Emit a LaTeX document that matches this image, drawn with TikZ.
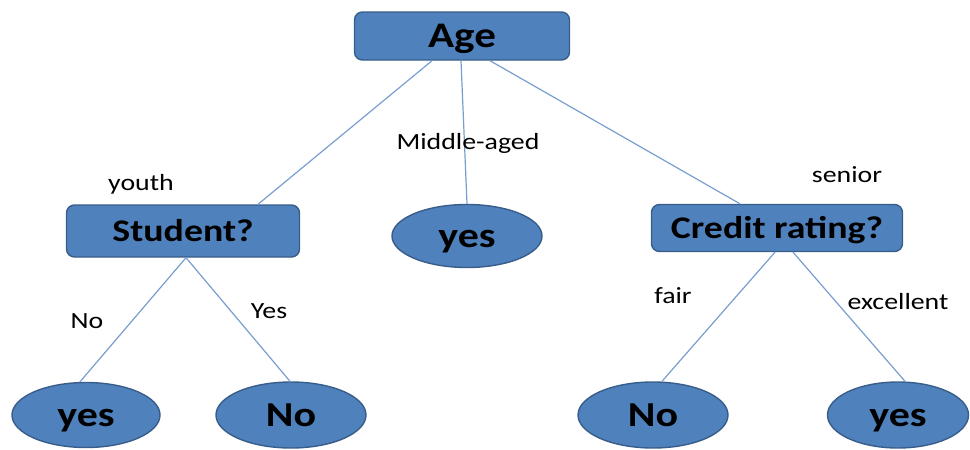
\documentclass[tikz,border=0pt]{standalone}
\usepackage{fontspec}
\setmainfont{Carlito}
\newfontfamily\calib[FakeStretch=1.2]{Carlito}
\usetikzlibrary{shapes.geometric}
\definecolor{nodefill}{HTML}{4F81BD}
\definecolor{nodeedge}{HTML}{385D8A}
\definecolor{branch}{RGB}{120,158,208}
\begin{document}
\begin{tikzpicture}[x=1pt,y=-1pt,
  testbox/.style={draw=nodeedge, line width=1.4pt, fill=nodefill, rounded corners=8pt,
    inner sep=0pt, text height=21pt, text depth=0pt,
    font=\calib\bfseries\fontsize{31.5}{31.5}\selectfont},
  leaf/.style={ellipse, draw=nodeedge, line width=1.4pt, fill=nodefill, inner sep=0pt,
    text height=23pt, text depth=0pt,
    font=\calib\bfseries\fontsize{35}{35}\selectfont},
  edge/.style={draw=branch, line width=1.2pt},
  lbl/.style={font=\calib\fontsize{23.2}{23.2}\selectfont, text=black, inner sep=0pt}]
\useasboundingbox (0,0) rectangle (970,450);
% decision nodes
\node[testbox, minimum width=215pt, minimum height=48pt, text height=23pt,
  font=\calib\bfseries\fontsize{36}{36}\selectfont] (age) at (462,36) {Age};
\node[testbox, minimum width=233pt, minimum height=52pt] (student) at (183,231) {Student?};
\node[testbox, minimum width=251pt, minimum height=47pt] (credit) at (777,228) {Credit rating?};
% leaves
\node[leaf, minimum width=150pt, minimum height=63pt] (ymid) at (467,236) {yes};
\node[leaf, minimum width=148pt, minimum height=65pt] (y1) at (86,415) {yes};
\node[leaf, minimum width=150pt, minimum height=66pt] (n1) at (291,415) {No};
\node[leaf, minimum width=150pt, minimum height=66pt] (n2) at (653,415) {No};
\node[leaf, minimum width=141pt, minimum height=66pt] (y2) at (898,415) {yes};
% branches
\draw[edge] (age.south -| 432,0) -- (student.north -| 258,0);
\draw[edge] (age.south -| 461,0) -- (ymid.north);
\draw[edge] (age.south -| 490,0) -- (credit.north -| 740,0);
\draw[edge] (student.south -| 186,0) -- (y1.north -| 80,0);
\draw[edge] (student.south -| 186,0) -- (n1.north -| 290,0);
\draw[edge] (credit.south -| 775,0) -- (n2.north -| 662,0);
\draw[edge] (credit.south -| 793,0) -- (y2.north -| 905,0);
% branch labels
\node[lbl] (lyouth) at (141,184) {youth};
\node[lbl] (lmid) at (468,143) {Middle-aged};
\node[lbl] (lsenior) at (847,175) {senior};
\node[lbl] (lno) at (87,321) {No};
\node[lbl] (lyes) at (269,311) {Yes};
\node[lbl] (lfair) at (673,296) {fair};
\node[lbl] (lexc) at (898,302) {excellent};
\end{tikzpicture}
\end{document}
